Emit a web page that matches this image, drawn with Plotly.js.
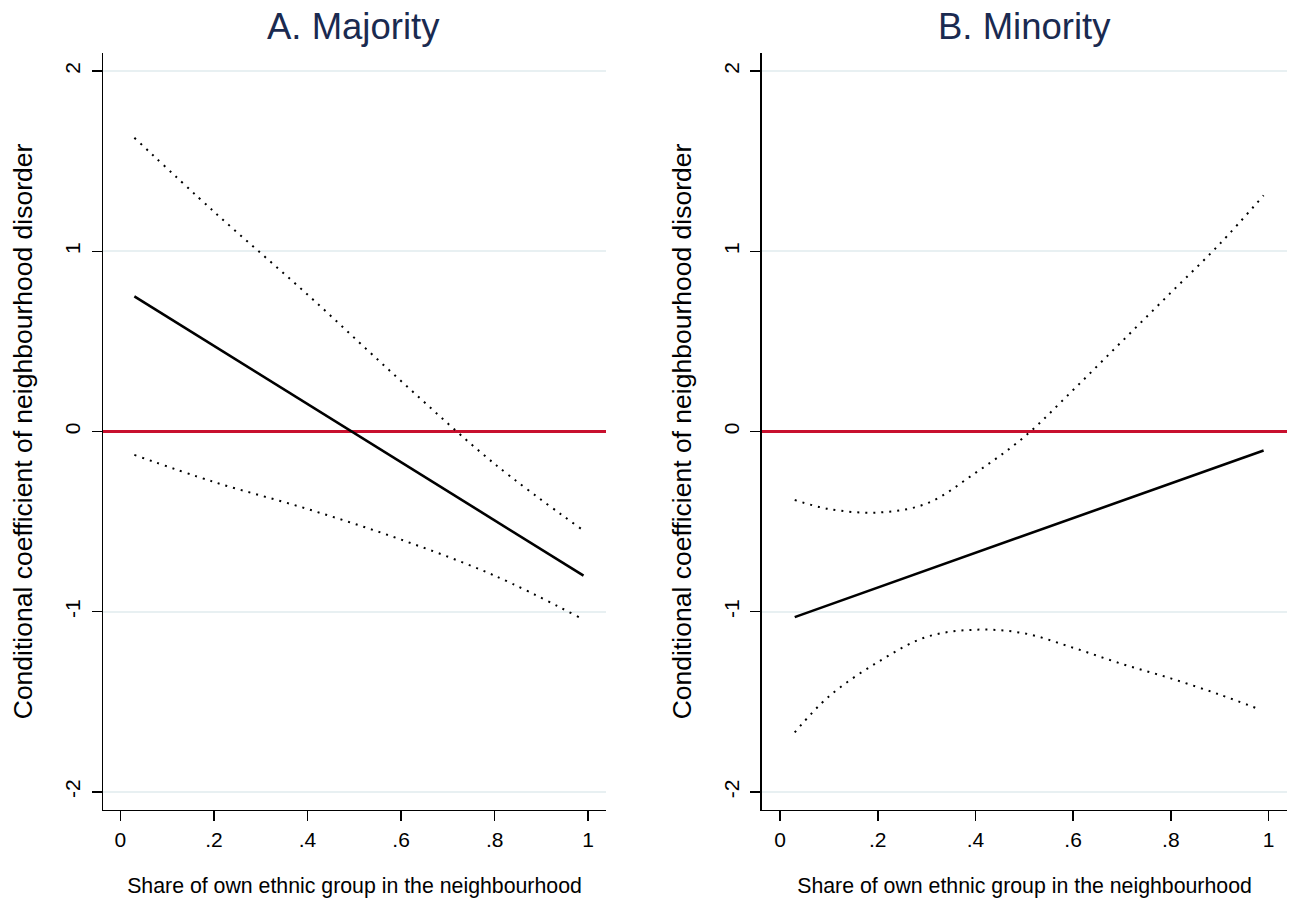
<!DOCTYPE html>
<html>
<head>
<meta charset="utf-8">
<script src="https://cdn.plot.ly/plotly-3.0.1.min.js"></script>
<style>
  html, body { margin: 0; padding: 0; background: #fff; }
  #graph { width: 1299px; height: 908px; }
</style>
</head>
<body>
<div id="graph"></div>
<script>
// Panel A: majority
const majX = [0.03, 0.2, 0.4, 0.6, 0.8, 0.99];
const majCoef = [0.75, 0.475, 0.152, -0.17, -0.493, -0.8];
const majUpper = [1.63, 1.22, 0.76, 0.28, -0.18, -0.55];
const majLowerX = [0.03, 0.2, 0.4, 0.6, 0.8, 0.98];
const majLower = [-0.13, -0.28, -0.43, -0.60, -0.80, -1.03];

// Panel B: minority
const minX = [0.03, 0.99];
const minCoef = [-1.03, -0.105];
const minUpperX = [0.03, 0.1, 0.2, 0.3, 0.4, 0.5, 0.6, 0.7, 0.8, 0.9, 0.99];
const minUpper = [-0.38, -0.43, -0.45, -0.40, -0.23, -0.03, 0.23, 0.50, 0.77, 1.04, 1.31];
const minLowerX = [0.03, 0.1, 0.2, 0.3, 0.4, 0.5, 0.6, 0.7, 0.8, 0.9, 0.98];
const minLower = [-1.67, -1.47, -1.28, -1.14, -1.10, -1.12, -1.20, -1.29, -1.37, -1.46, -1.54];

const xTickVals = [0, 0.2, 0.4, 0.6, 0.8, 1];
const xTickText = ['0', '.2', '.4', '.6', '.8', '1'];
const yTickVals = [-2, -1, 0, 1, 2];
const yTickText = ['-2', '-1', '0', '1', '2'];

const panelTitles = ['A. Majority', 'B. Minority'];
const xTitle = 'Share of own ethnic group in the neighbourhood';
const yTitle = 'Conditional coefficient of neighbourhood disorder';

const font = 'Liberation Sans, Arial, Helvetica, sans-serif';
const ciLine = { color: '#000', width: 2, dash: '2px,6px', shape: 'spline' };
const coefLine = { color: '#000', width: 2.6 };

function ciTrace(x, y, ax) {
    return { x: x, y: y, mode: 'lines', line: ciLine, xaxis: 'x' + ax, yaxis: 'y' + ax, hoverinfo: 'none' };
}

const traces = [
    { x: majX, y: majCoef, mode: 'lines', line: coefLine, xaxis: 'x', yaxis: 'y' },
    ciTrace(majX, majUpper, ''),
    ciTrace(majLowerX, majLower, ''),
    { x: minX, y: minCoef, mode: 'lines', line: coefLine, xaxis: 'x2', yaxis: 'y2' },
    ciTrace(minUpperX, minUpper, '2'),
    ciTrace(minLowerX, minLower, '2'),
];

function xAxis(domain, anchor) {
    return {
        domain: domain,
        anchor: anchor,
        range: [-0.037, 1.038],
        tickvals: xTickVals,
        ticktext: xTickText,
        ticks: 'outside',
        ticklen: 10,
        tickwidth: 1.5,
        tickcolor: '#000',
        showline: true,
        linecolor: '#000',
        linewidth: 1.5,
        showgrid: false,
        zeroline: false,
        tickfont: { family: font, size: 21, color: '#000' },
        title: { text: xTitle, font: { family: font, size: 21.3, color: '#000' }, standoff: 28 },
    };
}

// the red reference line at 0 is the y axis zeroline
function yAxis(anchor) {
    return {
        domain: [0.108, 0.9416],
        anchor: anchor,
        range: [-2.1, 2.1],
        tickvals: yTickVals,
        ticktext: yTickText,
        tickangle: -90,
        ticks: 'outside',
        ticklen: 10,
        tickwidth: 1.5,
        tickcolor: '#000',
        ticklabelstandoff: 3,
        showline: true,
        linecolor: '#000',
        linewidth: 1.5,
        showgrid: true,
        gridcolor: '#e8f0f2',
        gridwidth: 2,
        zeroline: true,
        zerolinecolor: '#c8102e',
        zerolinewidth: 2.5,
        tickfont: { family: font, size: 21, color: '#000' },
        title: { text: yTitle, font: { family: font, size: 26.5, color: '#000' }, standoff: 21 },
    };
}

const layout = {
    width: 1299,
    height: 908,
    margin: { l: 0, r: 0, t: 0, b: 0 },
    paper_bgcolor: '#fff',
    plot_bgcolor: '#fff',
    showlegend: false,
    xaxis: xAxis([0.0793, 0.4665], 'y'),
    yaxis: yAxis('x'),
    xaxis2: xAxis([0.5866, 0.9908], 'y2'),
    yaxis2: yAxis('x2'),
    annotations: panelTitles.map((t, i) => ({
        text: t,
        xref: 'paper',
        yref: 'paper',
        x: i === 0 ? 0.2722 : 0.7883,
        y: 1 - 26 / 908,
        xanchor: 'center',
        yanchor: 'middle',
        showarrow: false,
        font: { family: font, size: 36.5, color: '#1a2a50' },
    })),
};

const config = { staticPlot: true };

Plotly.newPlot('graph', traces, layout, config);
</script>
</body>
</html>
